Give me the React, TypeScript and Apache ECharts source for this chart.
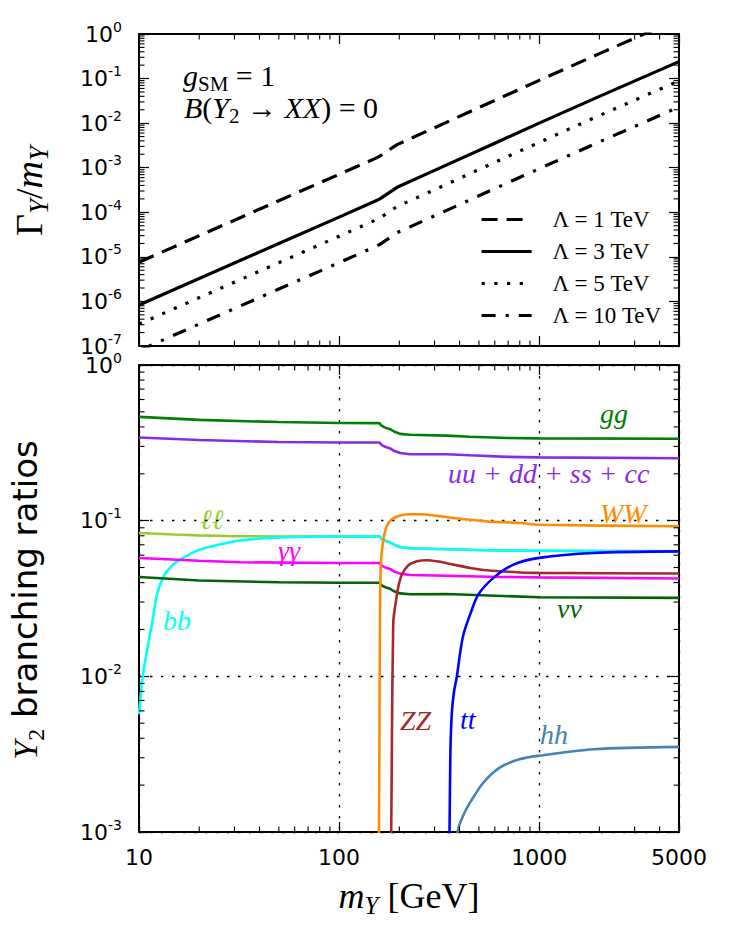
import React, { useEffect, useRef } from "react";
import * as echarts from "echarts";

// ---------- data ----------
const MASS_TOP = [10, 50, 100, 150, 160, 175, 195, 300, 600, 1000, 2000, 5000];
const WIDTH_L1 = [7.6e-6, 1.82e-4, 7.1e-4, 1.58e-3, 1.82e-3, 2.4e-3, 3.3e-3, 7.9e-3, 0.0324, 0.091, 0.363, 2.19];
const WIDTH_L3 = [8.3e-7, 2.0e-5, 7.8e-5, 1.74e-4, 2.0e-4, 2.63e-4, 3.63e-4, 8.7e-4, 3.55e-3, 1.0e-2, 0.0398, 0.24];
const WIDTH_L5 = [3.1e-7, 7.4e-6, 2.9e-5, 6.5e-5, 7.4e-5, 9.8e-5, 1.35e-4, 3.2e-4, 1.32e-3, 3.7e-3, 0.0148, 0.089];
const WIDTH_L10 = [7.9e-8, 1.9e-6, 7.4e-6, 1.66e-5, 1.9e-5, 2.5e-5, 3.5e-5, 8.3e-5, 3.4e-4, 9.5e-4, 3.8e-3, 0.023];
const LAMBDA_NAMES = ["Λ = 1 TeV", "Λ = 3 TeV", "Λ = 5 TeV", "Λ = 10 TeV"];

const BR_GG = [[10, 0.464], [20, 0.444], [50, 0.43], [100, 0.424], [159, 0.423], [163.5, 0.406], [170, 0.396], [180, 0.387], [188, 0.374], [202, 0.361], [226, 0.356], [345, 0.352], [450, 0.346], [692, 0.34], [1000, 0.338], [5000, 0.336]];
const BR_QQ = [[10, 0.342], [20, 0.33], [50, 0.32], [100, 0.318], [159, 0.318], [163.5, 0.306], [170, 0.298], [180, 0.291], [188, 0.281], [202, 0.272], [226, 0.267], [345, 0.267], [450, 0.263], [692, 0.257], [1000, 0.255], [5000, 0.252]];
const BR_LL = [[10, 0.0834], [15, 0.0815], [20, 0.0805], [30, 0.0795], [50, 0.0792], [100, 0.0793], [159, 0.0793], [163.5, 0.0762], [170, 0.0743], [180, 0.0726], [188, 0.07], [202, 0.0677], [226, 0.0665], [345, 0.0655], [638, 0.0643], [1000, 0.0641], [5000, 0.0635]];
const BR_BB = [[10, 0.0057], [10.5, 0.0105], [11.7, 0.023], [12.3, 0.0336], [13.3, 0.044], [14.5, 0.051], [16, 0.0562], [18, 0.061], [20.2, 0.0652], [25, 0.07], [32, 0.0745], [45, 0.0775], [64, 0.0786], [100, 0.0792], [159, 0.0793], [163.5, 0.0762], [170, 0.0743], [180, 0.0726], [188, 0.07], [202, 0.0677], [226, 0.0665], [345, 0.0655], [638, 0.0643], [1000, 0.0641], [5000, 0.0635]];
const BR_AA = [[10, 0.0576], [20, 0.0553], [32, 0.054], [100, 0.0535], [159, 0.0535], [163.5, 0.0514], [170, 0.0501], [180, 0.049], [188, 0.0472], [202, 0.0457], [226, 0.0448], [345, 0.0443], [638, 0.0435], [1000, 0.0432], [5000, 0.0425]];
const BR_NN = [[10, 0.0435], [20, 0.0413], [50, 0.0402], [100, 0.0399], [159, 0.0399], [163.5, 0.0383], [170, 0.0374], [180, 0.0365], [188, 0.0352], [202, 0.0341], [226, 0.0337], [345, 0.0338], [1000, 0.0322], [5000, 0.0319]];
const BR_WW = [[158, 0.0008], [159, 0.003], [160.3, 0.031], [162.2, 0.056], [166.5, 0.0755], [173, 0.092], [183.4, 0.102], [202, 0.108], [226, 0.11], [254, 0.11], [300, 0.108], [373, 0.104], [547, 0.099], [804, 0.0966], [1000, 0.0942], [5000, 0.092]];
const BR_ZZ = [[182, 0.0008], [183, 0.002], [184.5, 0.008], [186, 0.017], [187, 0.0232], [193, 0.0312], [198, 0.0379], [206, 0.0451], [222, 0.0517], [245, 0.0548], [274, 0.0557], [308, 0.0548], [373, 0.0522], [452, 0.0497], [547, 0.048], [804, 0.0465], [1000, 0.0462], [5000, 0.0458]];
const BR_TT = [[355, 0.0008], [356.5, 0.001], [360, 0.0032], [366, 0.0058], [375, 0.0079], [388, 0.01], [403, 0.0142], [418, 0.0185], [452, 0.025], [497, 0.0336], [591, 0.0429], [744, 0.0522], [1000, 0.0577], [1870, 0.062], [5000, 0.0635]];
const BR_HH = [[390, 0.0009], [394, 0.00105], [420, 0.0013], [452, 0.00155], [527, 0.00208], [638, 0.0026], [804, 0.00294], [1000, 0.00309], [1870, 0.0034], [5000, 0.00352]];

// axis decoration
const MINOR_X = [20, 30, 40, 50, 60, 70, 80, 90, 200, 300, 400, 500, 600, 700, 800, 900, 2000, 3000, 4000];
const MINOR_MULT = [2, 3, 4, 5, 6, 7, 8, 9];
const DECADES_TOP = [1e-7, 1e-6, 1e-5, 1e-4, 1e-3, 1e-2, 1e-1];
const DECADES_BOT = [1e-3, 1e-2, 1e-1];

// ---------- style ----------
const SERIF = "'Liberation Serif', 'DejaVu Serif', serif";
const SANS = "'DejaVu Sans', sans-serif";
const G0 = { left: 139, top: 34, width: 540, height: 312 };
const G1 = { left: 139, top: 365, width: 540, height: 467 };

const axisLineStyle = { color: "#000", width: 2 };
const tickStyle = { color: "#000", width: 1.2 };
const gridLineStyle = { color: "#000", width: 1.3, type: [2.5, 8.5] };

const tickRich = {
  b: { fontFamily: SANS, fontSize: 22, lineHeight: 29, color: "#000" },
  s: { fontFamily: SANS, fontSize: 14, lineHeight: 14, verticalAlign: "top", color: "#000" },
};
const powLabel = (v: number) => `{b|10}{s|${Math.round(Math.log10(v))}}`;

function xAxis(grid: number, pos: string, labels: boolean, split: boolean) {
  return {
    type: "log", logBase: 10, gridIndex: grid, position: pos, min: 10, max: 5000,
    axisLine: { show: true, lineStyle: axisLineStyle },
    axisTick: { show: true, inside: true, length: 10, lineStyle: tickStyle },
    axisLabel: labels
      ? { show: true, margin: 14, fontFamily: SANS, fontSize: 22, color: "#000", formatter: (v: number) => String(Math.round(v)) }
      : { show: false },
    splitLine: split ? { show: true, lineStyle: gridLineStyle } : { show: false },
  };
}
function yAxis(grid: number, pos: string, min: number, labels: boolean, split: boolean) {
  return {
    type: "log", logBase: 10, gridIndex: grid, position: pos, min, max: 1,
    axisLine: { show: true, lineStyle: axisLineStyle },
    axisTick: { show: true, inside: true, length: 10, lineStyle: tickStyle },
    axisLabel: labels ? { show: true, margin: 17, formatter: powLabel, rich: tickRich } : { show: false },
    splitLine: split ? { show: true, lineStyle: gridLineStyle } : { show: false },
  };
}

function minorTicks(xi: number, yi: number, decades: number[], xAnchor: number, yAnchor: number) {
  const data: number[][] = [];
  MINOR_X.forEach((x) => data.push([x, yAnchor, 0]));
  decades.forEach((d) => MINOR_MULT.forEach((k) => data.push([xAnchor, k * d, 1])));
  return {
    type: "custom", xAxisIndex: xi, yAxisIndex: yi, silent: true, z: 5,
    dimensions: ["x", "y", "k"], encode: { x: 0, y: 1 },
    data,
    renderItem: (params: any, api: any) => {
      const cs = params.coordSys;
      const p = api.coord([api.value(0), api.value(1)]);
      const L = 5.5;
      const style = { stroke: "#000", lineWidth: 1.1 };
      if (api.value(2) === 0) {
        const x = p[0];
        return {
          type: "group",
          children: [
            { type: "line", shape: { x1: x, y1: cs.y + cs.height, x2: x, y2: cs.y + cs.height - L }, style },
            { type: "line", shape: { x1: x, y1: cs.y, x2: x, y2: cs.y + L }, style },
          ],
        };
      }
      const y = p[1];
      return {
        type: "group",
        children: [
          { type: "line", shape: { x1: cs.x, y1: y, x2: cs.x + L, y2: y }, style },
          { type: "line", shape: { x1: cs.x + cs.width, y1: y, x2: cs.x + cs.width - L, y2: y }, style },
        ],
      };
    },
  };
}

const zip = (xs: number[], ys: number[]) => xs.map((x, i) => [x, ys[i]]);

function topLine(name: string, ys: number[], dash: any) {
  return {
    name, type: "line", xAxisIndex: 0, yAxisIndex: 0, data: zip(MASS_TOP, ys),
    symbol: "none", showSymbol: false, clip: true, z: 3,
    lineStyle: { color: "#000", width: 3.2, type: dash, cap: "butt" },
  };
}
function brLine(name: string, data: number[][], color: string, smooth: number | boolean = false) {
  return {
    name, type: "line", xAxisIndex: 2, yAxisIndex: 2, data, smooth,
    symbol: "none", showSymbol: false, clip: true, z: 3,
    lineStyle: { color, width: 2.6 },
  };
}

const curveLabel = (x: number, baseline: number, text: string, color: string, fs = 28) => ({
  type: "text", x, y: baseline - 0.34 * fs, silent: true,
  style: { text, fill: color, fontFamily: SERIF, fontStyle: "italic", fontSize: fs, align: "left", verticalAlign: "middle" },
});

const mathRich = (fs: number, lh: number) => ({
  i: { fontFamily: SERIF, fontStyle: "italic", fontSize: fs, lineHeight: lh, verticalAlign: "top", color: "#000" },
  n: { fontFamily: SERIF, fontSize: fs, lineHeight: lh, verticalAlign: "top", color: "#000" },
  si: { fontFamily: SERIF, fontStyle: "italic", fontSize: Math.round(fs * 0.7), lineHeight: Math.round(fs * 0.7), verticalAlign: "bottom", color: "#000" },
  sn: { fontFamily: SERIF, fontSize: Math.round(fs * 0.7), lineHeight: Math.round(fs * 0.7), verticalAlign: "bottom", color: "#000" },
  t: { fontFamily: SANS, fontSize: 34, lineHeight: lh, verticalAlign: "top", color: "#000" },
});

const option: any = {
  animation: false,
  backgroundColor: "#fff",
  grid: [
    { ...G0, containLabel: false },
    { ...G1, containLabel: false },
  ],
  xAxis: [xAxis(0, "bottom", false, false), xAxis(0, "top", false, false), xAxis(1, "bottom", true, true), xAxis(1, "top", false, false)],
  yAxis: [yAxis(0, "left", 1e-7, true, false), yAxis(0, "right", 1e-7, false, false), yAxis(1, "left", 1e-3, true, true), yAxis(1, "right", 1e-3, false, false)],
  legend: {
    data: LAMBDA_NAMES,
    orient: "vertical", left: 475, top: 203, itemWidth: 50, itemHeight: 20, itemGap: 9,
    selectedMode: false,
    textStyle: { fontFamily: SERIF, fontSize: 23, color: "#000", lineHeight: 20, padding: [0, 0, 0, 16] },
    itemStyle: { opacity: 0 },
    lineStyle: { width: 3.2 },
  },
  series: [
    topLine(LAMBDA_NAMES[0], WIDTH_L1, [16, 9]),
    topLine(LAMBDA_NAMES[1], WIDTH_L3, "solid"),
    topLine(LAMBDA_NAMES[2], WIDTH_L5, [3.2, 9.5]),
    topLine(LAMBDA_NAMES[3], WIDTH_L10, [14, 10, 3.2, 10]),
    brLine("gg", BR_GG, "#008000"),
    brLine("uu+dd+ss+cc", BR_QQ, "#8A2BE2"),
    brLine("ll", BR_LL, "#9ACD32"),
    brLine("bb", BR_BB, "#00FFFF", 0.3),
    brLine("γγ", BR_AA, "#FF00FF"),
    brLine("νν", BR_NN, "#006400"),
    brLine("WW", BR_WW, "#FF8C00", 0.25),
    brLine("ZZ", BR_ZZ, "#A52A2A", 0.25),
    brLine("tt", BR_TT, "#0000FF", 0.3),
    brLine("hh", BR_HH, "#4682B4", 0.3),
    minorTicks(0, 0, DECADES_TOP, 10, 1e-7),
    minorTicks(2, 2, DECADES_BOT, 10, 1e-3),
  ],
  graphic: [
    // top panel annotations
    { type: "text", x: 183, y: 88 - 27.2, silent: true, style: { text: "{i|g}{sn|SM}{n| = 1}", rich: mathRich(30, 34) } },
    { type: "text", x: 184, y: 120 - 27.2, silent: true, style: { text: "{i|B}{n|(}{i|Y}{sn|2}{n| → }{i|XX}{n|) = 0}", rich: mathRich(30, 34) } },
    // axis titles
    { type: "text", x: 31, y: 191, rotation: Math.PI / 2, silent: true,
      style: { text: "{n|Γ}{si|Y}{n|/}{i|m}{si|Y}", rich: mathRich(38, 42), align: "center", verticalAlign: "middle" } },
    { type: "text", x: 28, y: 600, rotation: Math.PI / 2, silent: true,
      style: { text: "{i|Y}{sn|2}{t| branching ratios}", rich: mathRich(34, 40), align: "center", verticalAlign: "middle" } },
    { type: "text", x: 409, y: 898, silent: true,
      style: { text: "{i|m}{si|Y}{n| [GeV]}", rich: mathRich(36, 40), align: "center", verticalAlign: "middle" } },
    // curve labels
    curveLabel(600, 423, "gg", "#008000"),
    curveLabel(448, 483, "uu + dd + ss + cc", "#8A2BE2"),
    curveLabel(600, 523, "WW", "#FF8C00"),
    curveLabel(200, 529, "ℓℓ", "#9ACD32"),
    curveLabel(278, 560, "γγ", "#FF00FF"),
    curveLabel(163, 630, "bb", "#00FFFF"),
    curveLabel(557, 618, "νν", "#006400"),
    curveLabel(400, 730, "ZZ", "#A52A2A"),
    curveLabel(460, 729, "tt", "#0000FF"),
    curveLabel(540, 744, "hh", "#4682B4"),
  ],
};

export default function App() {
  const ref = useRef<HTMLDivElement>(null);
  useEffect(() => {
    const chart = echarts.init(ref.current as HTMLDivElement, null, { renderer: "svg" });
    chart.setOption(option);
    return () => chart.dispose();
  }, []);
  return (
    <div
      ref={ref}
      style={{ position: "absolute", left: 0, top: 0, width: 729, height: 940, background: "#fff" }}
    />
  );
}
